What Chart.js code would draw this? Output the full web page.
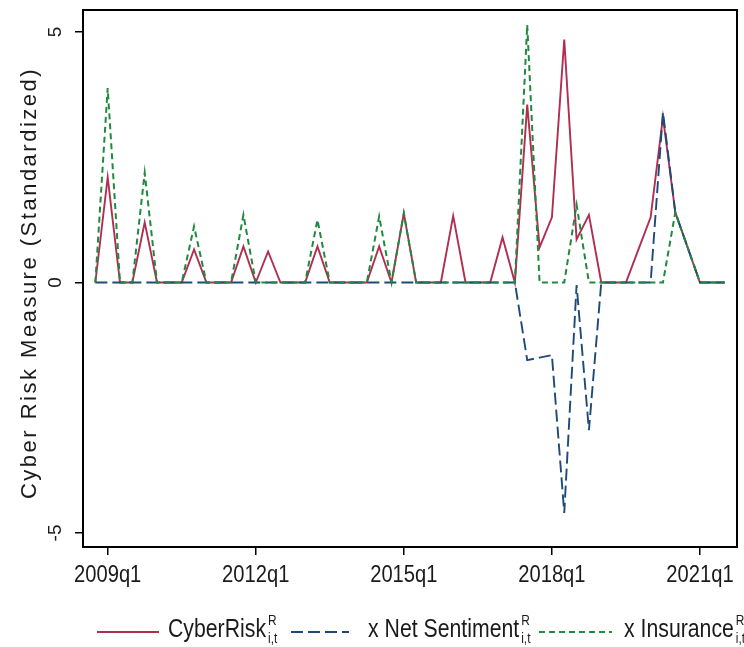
<!DOCTYPE html>
<html>
<head>
<meta charset="utf-8">
<script src="https://cdn.jsdelivr.net/npm/chart.js@4.4.1/dist/chart.umd.min.js"></script>
<style>
  html, body { margin: 0; padding: 0; background: #fff; }
  #wrap { width: 744px; height: 647px; position: relative; }
</style>
</head>
<body>
<div id="wrap"><canvas id="cyberChart"></canvas></div>
<script>
// quarters on the x axis (first and last are empty padding quarters)
var quarters = [
  '2008q3', '2008q4',
  '2009q1', '2009q2', '2009q3', '2009q4',
  '2010q1', '2010q2', '2010q3', '2010q4',
  '2011q1', '2011q2', '2011q3', '2011q4',
  '2012q1', '2012q2', '2012q3', '2012q4',
  '2013q1', '2013q2', '2013q3', '2013q4',
  '2014q1', '2014q2', '2014q3', '2014q4',
  '2015q1', '2015q2', '2015q3', '2015q4',
  '2016q1', '2016q2', '2016q3', '2016q4',
  '2017q1', '2017q2', '2017q3', '2017q4',
  '2018q1', '2018q2', '2018q3', '2018q4',
  '2019q1', '2019q2', '2019q3', '2019q4',
  '2020q1', '2020q2', '2020q3', '2020q4',
  '2021q1', '2021q2', '2021q3', '2021q4'
];

var cyberRisk = [
  null, 0,
  2.1, 0, 0, 1.2,
  0, 0, 0, 0.66,
  0, 0, 0, 0.72,
  0, 0.62, 0, 0,
  0, 0.72, 0, 0,
  0, 0, 0.72, 0,
  1.38, 0, 0, 0,
  1.33, 0, 0, 0,
  0.9, 0, 3.55, 0.7,
  1.3, 4.85, 0.86, 1.35,
  0, 0, 0, 0.65,
  1.3, 3.3, 1.4, 0.7,
  0, 0, 0, null
];

var netSentiment = [
  null, 0,
  0, 0, 0, 0,
  0, 0, 0, 0,
  0, 0, 0, 0,
  0, 0, 0, 0,
  0, 0, 0, 0,
  0, 0, 0, 0,
  0, 0, 0, 0,
  0, 0, 0, 0,
  0, 0, -1.55, -1.5,
  -1.45, -4.6, -0.05, -2.95,
  0, 0, 0, 0,
  0, 3.4, 1.4, 0.7,
  0, 0, 0, null
];

var insurance = [
  null, 0,
  3.88, 0, 0, 2.19,
  0, 0, 0, 1.12,
  0, 0, 0, 1.35,
  0, 0, 0, 0,
  0, 1.25, 0, 0,
  0, 0, 1.32, 0,
  1.38, 0, 0, 0,
  0, 0, 0, 0,
  0, 0, 5.14, 0,
  0, 0, 1.55, 0,
  0, 0, 0, 0,
  0, 0, 1.4, 0.7,
  0, 0, 0, null
];

var xTickLabels = ['2009q1', '2012q1', '2015q1', '2018q1', '2021q1'];
var yTicks = [-5, 0, 5];

var RED = '#b02e52';
var NAVY = '#1d4a78';
var GREEN = '#1f8a3e';
var FONT = '"Liberation Sans", Arial, Helvetica, sans-serif';

var legendItems = [
  { text: 'CyberRisk', color: RED, dash: [], x0: 97, x1: 159, tx: 168 },
  { text: 'x Net Sentiment', color: NAVY, dash: [12, 5], x0: 291, x1: 349, tx: 368 },
  { text: 'x Insurance', color: GREEN, dash: [6, 4], x0: 539, x1: 612, tx: 624 }
];

// Stata uses a condensed Helvetica, so squeeze the text horizontally
function narrowText(ctx, text, x, y, size, squeeze, align) {
  ctx.save();
  ctx.font = size + 'px ' + FONT;
  ctx.translate(x, y);
  ctx.scale(squeeze, 1);
  ctx.textAlign = align;
  ctx.fillText(text, 0, 0);
  var w = ctx.measureText(text).width * squeeze;
  ctx.restore();
  return w;
}

var stataDecor = {
  id: 'stataDecor',
  afterDraw: function(chart) {
    var ctx = chart.ctx, a = chart.chartArea, ys = chart.scales.y, xs = chart.scales.x;
    ctx.save();
    ctx.strokeStyle = '#000';
    ctx.lineWidth = 2;
    ctx.setLineDash([]);
    ctx.strokeRect(a.left, a.top, a.right - a.left, a.bottom - a.top);

    ctx.fillStyle = '#1a1a1a';
    ctx.textBaseline = 'alphabetic';

    // x tick labels
    xTickLabels.forEach(function(lbl) {
      narrowText(ctx, lbl, xs.getPixelForValue(quarters.indexOf(lbl)), 582, 24, 0.84, 'center');
    });

    // y tick labels, rotated like the original
    ctx.font = '19px ' + FONT;
    ctx.textAlign = 'center';
    ctx.textBaseline = 'middle';
    yTicks.forEach(function(v) {
      ctx.save();
      ctx.translate(56, ys.getPixelForValue(v));
      ctx.rotate(-Math.PI / 2);
      ctx.fillText(String(v), 0, 0);
      ctx.restore();
    });

    // y axis title
    ctx.save();
    ctx.font = '22px ' + FONT;
    ctx.letterSpacing = '2.5px';
    ctx.translate(30, 283);
    ctx.rotate(-Math.PI / 2);
    ctx.fillText('Cyber Risk Measure (Standardized)', 0, 0);
    ctx.restore();

    // legend
    ctx.textBaseline = 'alphabetic';
    legendItems.forEach(function(it) {
      ctx.strokeStyle = it.color;
      ctx.lineWidth = 2;
      ctx.setLineDash(it.dash);
      ctx.beginPath();
      ctx.moveTo(it.x0, 632);
      ctx.lineTo(it.x1, 632);
      ctx.stroke();
      ctx.setLineDash([]);
      ctx.fillStyle = '#1a1a1a';
      var w = narrowText(ctx, it.text, it.tx, 637, 25, 0.85, 'left');
      narrowText(ctx, 'R', it.tx + w + 2, 625, 14, 0.85, 'left');
      narrowText(ctx, 'i,t', it.tx + w + 2, 643, 14, 0.85, 'left');
    });
    ctx.restore();
  }
};

new Chart(document.getElementById('cyberChart'), {
  type: 'line',
  data: {
    labels: quarters,
    datasets: [
      { label: 'CyberRisk', data: cyberRisk, borderColor: RED, borderWidth: 1.9,
        pointRadius: 0, tension: 0, order: 2 },
      { label: 'x Net Sentiment', data: netSentiment, borderColor: NAVY, borderWidth: 1.9,
        borderDash: [12, 5], pointRadius: 0, tension: 0, order: 1 },
      { label: 'x Insurance', data: insurance, borderColor: GREEN, borderWidth: 2,
        borderDash: [6, 4], pointRadius: 0, tension: 0, order: 0 }
    ]
  },
  options: {
    responsive: true,
    maintainAspectRatio: false,
    animation: false,
    devicePixelRatio: 1,
    layout: { padding: { top: 10, right: 7, left: 0, bottom: 0 } },
    plugins: { legend: { display: false }, tooltip: { enabled: false } },
    scales: {
      x: {
        type: 'category',
        offset: false,
        border: { display: false },
        grid: { drawOnChartArea: false, drawTicks: true, tickLength: 8, color: '#000', lineWidth: 1.5 },
        ticks: { display: false, autoSkip: false },
        afterBuildTicks: function(s) {
          s.ticks = s.ticks.filter(function(t) { return xTickLabels.indexOf(quarters[t.value]) >= 0; });
        },
        afterFit: function(s) { s.height = 100; }
      },
      y: {
        min: -5.28,
        max: 5.44,
        border: { display: false },
        grid: { drawOnChartArea: false, drawTicks: true, tickLength: 8, color: '#000', lineWidth: 1.5 },
        ticks: { display: false },
        afterBuildTicks: function(s) {
          s.ticks = yTicks.map(function(v) { return { value: v }; });
        },
        afterFit: function(s) { s.width = 83; }
      }
    }
  },
  plugins: [stataDecor]
});
</script>
</body>
</html>
